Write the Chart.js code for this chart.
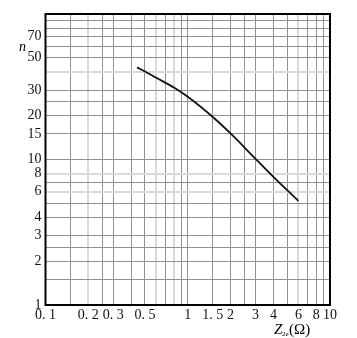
<!DOCTYPE html>
<html>
<head>
<meta charset="utf-8">
<script src="https://cdn.jsdelivr.net/npm/chart.js@4"></script>
<style>
    body { margin: 0; background: #fff; }
    #wrap { width: 357px; height: 338px; position: relative; }
</style>
</head>
<body>
<div id="wrap"><canvas id="chart"></canvas></div>
<script>
// Curve: Z2e (ohm) vs n
const zValues = [0.44, 0.5, 0.6, 0.8, 1.0, 1.5, 2.0, 3.0, 4.0, 5.0, 6.0];
const nValues = [43, 40.3, 36.5, 31.2, 27, 19.6, 15.1, 10.1, 7.6, 6.15, 5.2];

// Grid lines and labelled ticks
const xGrid = [0.1, 0.15, 0.2, 0.25, 0.3, 0.4, 0.5, 0.6, 0.7, 0.8, 0.9, 1, 1.5, 2, 2.5, 3, 4, 5, 6, 7, 8, 9, 10];
const xLabels = { 0.1: '0. 1', 0.2: '0. 2', 0.3: '0. 3', 0.5: '0. 5', 1: '1', 1.5: '1. 5', 2: '2', 3: '3', 4: '4', 6: '6', 8: '8', 10: '10' };
const xLight = [0.2, 0.6, 0.8, 6];

const yGrid = [1, 1.5, 2, 2.5, 3, 4, 5, 6, 7, 8, 10, 15, 20, 25, 30, 40, 50, 60, 70, 80, 90, 100];
const yLabels = { 1: '1', 2: '2', 3: '3', 4: '4', 6: '6', 8: '8', 10: '10', 15: '15', 20: '20', 30: '30', 50: '50', 70: '70' };
const yLight = [6, 8, 40];

const FONT = '"Liberation Serif", "DejaVu Serif", serif';

// frame round the plot area plus the two axis titles
const framePlugin = {
    id: 'frame',
    afterDraw(chart) {
        const { ctx, chartArea: a } = chart;
        ctx.save();
        ctx.strokeStyle = '#000';
        ctx.lineWidth = 2;
        ctx.strokeRect(a.left, a.top, a.right - a.left, a.bottom - a.top);

        ctx.fillStyle = '#000';
        ctx.textBaseline = 'middle';
        ctx.textAlign = 'left';
        ctx.font = 'italic 14px ' + FONT;
        ctx.fillText('n', 19, 47);

        ctx.font = 'italic 15px ' + FONT;
        ctx.fillText('Z', 274, 330);
        ctx.font = '7px ' + FONT;
        ctx.fillText('2e', 282, 334);
        ctx.font = '15px ' + FONT;
        ctx.fillText('(Ω)', 289, 330);
        ctx.restore();
    }
};

function fixedTicks(values) {
    return scale => {
        scale.ticks = values.map(v => ({ value: v }));
    };
}

new Chart(document.getElementById('chart'), {
    type: 'line',
    data: {
        datasets: [{
            data: zValues.map((z, i) => ({ x: z, y: nValues[i] })),
            borderColor: '#111',
            borderWidth: 1.8,
            pointRadius: 0,
            cubicInterpolationMode: 'monotone',
            fill: false
        }]
    },
    options: {
        responsive: true,
        maintainAspectRatio: false,
        animation: false,
        layout: { padding: { top: 14, right: 27, left: 0, bottom: 0 } },
        plugins: { legend: { display: false }, tooltip: { enabled: false } },
        scales: {
            x: {
                type: 'logarithmic',
                min: 0.1,
                max: 10,
                afterBuildTicks: fixedTicks(xGrid),
                afterFit: scale => { scale.height = 33; },
                border: { display: false },
                grid: {
                    drawTicks: false,
                    color: c => c.tick && xLight.includes(c.tick.value) ? '#dadada' : '#909090',
                    lineWidth: c => c.tick && xLight.includes(c.tick.value) ? 2 : 1
                },
                ticks: {
                    autoSkip: false,
                    maxRotation: 0,
                    padding: 2,
                    color: '#111',
                    font: { family: FONT, size: 14 },
                    callback: v => xLabels[v] || ''
                }
            },
            y: {
                type: 'logarithmic',
                min: 1,
                max: 100,
                afterBuildTicks: fixedTicks(yGrid),
                afterFit: scale => { scale.width = 45.5; },
                border: { display: false },
                grid: {
                    drawTicks: false,
                    color: c => c.tick && yLight.includes(c.tick.value) ? '#dadada' : '#909090',
                    lineWidth: c => c.tick && yLight.includes(c.tick.value) ? 2 : 1
                },
                ticks: {
                    autoSkip: false,
                    padding: 4,
                    color: '#111',
                    font: { family: FONT, size: 14 },
                    callback: v => yLabels[v] || ''
                }
            }
        }
    },
    plugins: [framePlugin]
});
</script>
</body>
</html>
